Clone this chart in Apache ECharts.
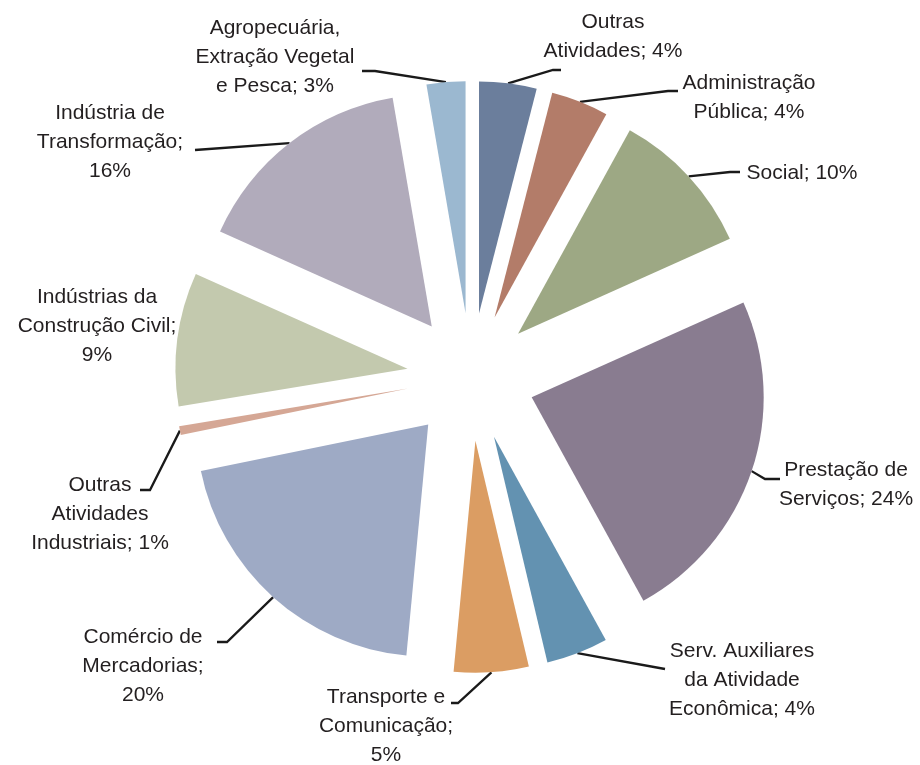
<!DOCTYPE html>
<html>
<head>
<meta charset="utf-8">
<script src="https://cdn.jsdelivr.net/npm/echarts@6/dist/echarts.min.js"></script>
<style>
  html, body { margin: 0; padding: 0; background: #fff; }
  #chart { width: 920px; height: 765px; }
</style>
</head>
<body>
<div id="chart"></div>
<script>
// dados das fatias, sentido horário a partir do topo
var categories = ['Outras Atividades', 'Administração Pública', 'Social', 'Prestação de Serviços',
  'Serv. Auxiliares da Atividade Econômica', 'Transporte e Comunicação', 'Comércio de Mercadorias',
  'Outras Atividades Industriais', 'Indústrias da Construção Civil', 'Indústria de Transformação',
  'Agropecuária, Extração Vegetal e Pesca']
var shares = [4.0, 4.0, 10.3, 23.7, 4.3, 5.2, 20.3, 0.6, 9.3, 15.6, 2.7]
// texto dos rótulos com as quebras de linha do original ({p} = percentual)
var labelText = ['Outras\nAtividades; {p}%', 'Administração\nPública; {p}%', 'Social; {p}%',
  'Prestação de\nServiços; {p}%', 'Serv. Auxiliares\nda Atividade\nEconômica; {p}%',
  'Transporte e\nComunicação;\n{p}%', 'Comércio de\nMercadorias;\n{p}%',
  'Outras\nAtividades\nIndustriais; {p}%', 'Indústrias da\nConstrução Civil;\n{p}%',
  'Indústria de\nTransformação;\n{p}%', 'Agropecuária,\nExtração Vegetal\ne Pesca; {p}%']

var colors = ['#6b7e9c', '#b37c69', '#9da884', '#897c90', '#6392b1', '#db9d63',
  '#9eaac5', '#d5a795', '#c3c9ae', '#b1abbb', '#9bb8d0']

// layout (posição dos rótulos e fim das linhas guia)
var labelPos = [[613, 37], [749, 98], [802, 173], [846, 485], [742, 680], [386, 726],
  [143, 666], [100, 514], [97, 326], [110, 142], [275, 57]]
var leaderEnd = [[561, 70, -8], [678, 91, -10], [740, 172, -10], [780, 479, -15], [665, 669, 0],
  [451, 703, 7], [217, 642, 10], [140, 490, 10], null, [195, 150, 0], [362, 71, 13]]

var cx = 471, cy = 377, R = 232, OFF = 64

var chart = echarts.init(document.getElementById('chart'))
var total = shares.reduce(function (a, b) { return a + b }, 0)
var series = []
var cum = 0

shares.forEach(function (v, i) {
  var mid = (cum + v / 2) / total * Math.PI * 2
  cum += v
  var dx = OFF * Math.sin(mid)
  var dy = -OFF * Math.cos(mid)
  // ponto no arco externo onde começa a linha guia
  var ax = cx + (OFF + R) * Math.sin(mid)
  var ay = cy - (OFF + R) * Math.cos(mid)
  var le = leaderEnd[i]

  series.push({
    type: 'pie',
    center: [cx + dx, cy + dy],
    radius: [0, R],
    startAngle: 90,
    clockwise: true,
    silent: true,
    animation: false,
    avoidLabelOverlap: false,
    label: {
      position: 'outside',
      color: '#231f20',
      fontFamily: 'Arial, "Liberation Sans", sans-serif',
      fontSize: 21,
      lineHeight: 29,
      formatter: function (p) {
        return labelText[p.dataIndex].replace('{p}', Math.round(p.percent))
      }
    },
    labelLine: {
      show: true,
      lineStyle: { color: '#1a1a1a', width: 2.3 }
    },
    labelLayout: function () {
      var out = {
        x: labelPos[i][0],
        y: labelPos[i][1],
        align: 'center',
        verticalAlign: 'middle'
      }
      if (le) {
        out.labelLinePoints = [[ax, ay], [le[0] + le[2], le[1]], [le[0], le[1]]]
      }
      return out
    },
    data: categories.map(function (name, j) {
      return {
        name: name,
        value: shares[j],
        itemStyle: { color: j === i ? colors[j] : 'rgba(0,0,0,0)' },
        label: { show: j === i },
        labelLine: { show: j === i && leaderEnd[j] !== null }
      }
    })
  })
})

chart.setOption({
  backgroundColor: '#ffffff',
  animation: false,
  series: series
})
</script>
</body>
</html>
